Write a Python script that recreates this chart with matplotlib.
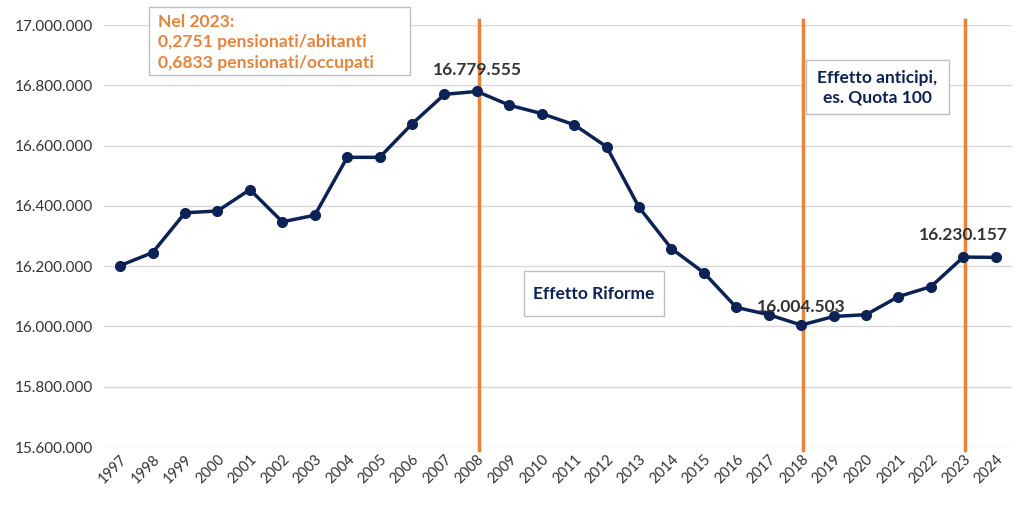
import matplotlib
matplotlib.use("Agg")
import matplotlib.pyplot as plt
from matplotlib.patches import Rectangle
from matplotlib.ticker import FuncFormatter

plt.rcParams['font.family'] = ['Lato', 'DejaVu Sans']

years = list(range(1997, 2025))
values = [16202000, 16245000, 16377000, 16383000, 16454000, 16347000, 16369000,
          16561000, 16561000, 16672000, 16770000, 16779555, 16734000, 16706000,
          16669000, 16596000, 16395000, 16258000, 16178000, 16063000, 16039000,
          16004503, 16033000, 16039000, 16099000, 16132000, 16230157, 16229000]
vlines = [2008, 2018, 2023]
labels = {2008: "16.779.555", 2018: "16.004.503", 2023: "16.230.157"}

W, H = 1024, 507
fig = plt.figure(figsize=(W/100, H/100), dpi=100)
ax = fig.add_axes([104/W, 1-447/H, 908/W, 422/H])

navy = '#0C2257'
orange = '#E8833A'
ax.plot(years, values, color=navy, lw=2.5, marker='o', ms=7, zorder=3)

ax.set_xlim(1996.5, 2024.5)
ax.set_ylim(15600000, 17000000)
ax.set_yticks(range(15600000, 17000001, 200000))
ax.yaxis.set_major_formatter(FuncFormatter(lambda v, p: f"{int(v):,}".replace(",", ".")))
ax.set_xticks(years)
ax.set_xticklabels([str(y) for y in years], rotation=45, ha='right', rotation_mode='anchor',
                   fontsize=10.5, color='#333333')
for t in ax.get_yticklabels():
    t.set_fontsize(11)
    t.set_color('#333333')
ax.tick_params(length=0, pad=8)
ax.tick_params(axis='x', pad=4)
ax.grid(axis='y', color='#D9D9D9', lw=1)
ax.set_axisbelow(True)
for s in ax.spines.values():
    s.set_visible(False)

for x in vlines:
    ax.plot([x + 0.05, x + 0.05], [15590000, 17015000], color=orange, lw=2.5, zorder=2, clip_on=False)

offs = {2008: 45000, 2018: 35000, 2023: 45000}
for y, v in zip(years, values):
    if y in labels:
        ax.text(y, v + offs[y], labels[y], ha='center', va='bottom', fontsize=12.5,
                fontweight='bold', color='#333333', zorder=4)

def px(x, y):
    return x / W, 1 - y / H

def box(x0, y0, x1, y1):
    fig.patches.append(Rectangle(px(x0, y1), (x1-x0)/W, (y1-y0)/H, transform=fig.transFigure,
                                 facecolor='white', edgecolor='#BFBFBF', lw=1, zorder=5))

box(149, 7, 410, 75)
for i, line in enumerate(["Nel 2023:", "0,2751 pensionati/abitanti", "0,6833 pensionati/occupati"]):
    fig.text(*px(158, 22 + 20.5*i), line, ha='left', va='center', fontsize=12.6,
             fontweight='bold', color=orange, zorder=6)

box(806, 60, 949, 114)
fig.text(*px(877, 88), "Effetto anticipi,\nes. Quota 100", ha='center', va='center',
         fontsize=12.5, fontweight='bold', color=navy, linespacing=1.25, zorder=6)

box(524, 271, 664, 316)
fig.text(*px(594, 294), "Effetto Riforme", ha='center', va='center',
         fontsize=12.5, fontweight='bold', color=navy, zorder=6)

fig.savefig('out.png', dpi=100, facecolor='white')
